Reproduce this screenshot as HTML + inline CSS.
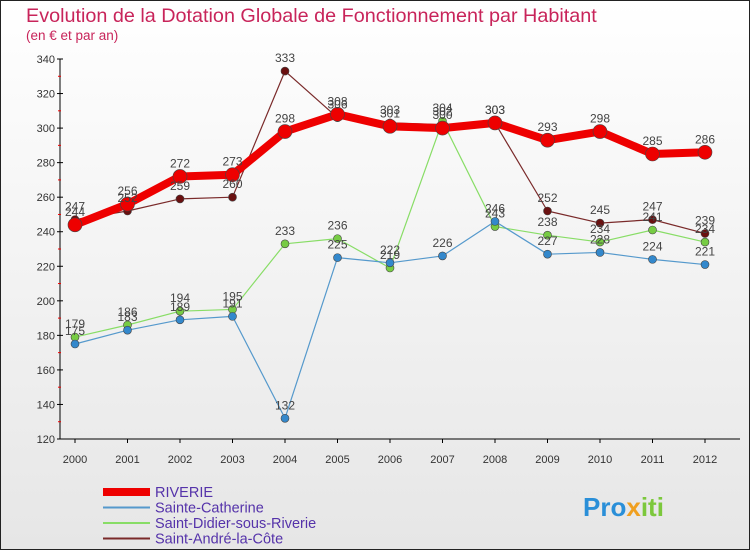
<!DOCTYPE html>
<html><head><meta charset="utf-8"><style>
body{margin:0;width:750px;height:550px;overflow:hidden;font-family:"Liberation Sans",sans-serif}
svg{display:block}
</style></head><body>
<svg id="chart" width="750" height="550">
<defs><linearGradient id="bg" x1="0" y1="0" x2="0" y2="1"><stop offset="0" stop-color="#ffffff"/><stop offset="1" stop-color="#e6e6e6"/></linearGradient></defs>
<rect x="0.5" y="0.5" width="749" height="549" fill="url(#bg)" stroke="#222"/>
<text x="26" y="22" font-size="19.8" fill="#c8245a">Evolution de la Dotation Globale de Fonctionnement par Habitant</text>
<text x="26" y="40" font-size="13.5" fill="#c8245a">(en € et par an)</text>
<g id="axes"></g><g id="series"></g><g id="legend"></g>
<text x="583" y="516" font-size="26" font-weight="bold" fill="#2a8fd8">Pro<tspan fill="#f0a020">x</tspan><tspan fill="#7cc83c">iti</tspan></text>
</svg>
<script>
const years=[2000,2001,2002,2003,2004,2005,2006,2007,2008,2009,2010,2011,2012];
const yTicks=[120,140,160,180,200,220,240,260,280,300,320,340];
const riverie=[244,256,272,273,298,308,301,300,303,293,298,285,286];
const sainteCatherine=[175,183,189,191,132,225,222,226,246,227,228,224,221];
const saintDidier=[179,186,194,195,233,236,219,304,243,238,234,241,234];
const saintAndre=[247,252,259,260,333,306,303,302,303,252,245,247,239];
const names=["RIVERIE","Sainte-Catherine","Saint-Didier-sous-Riverie","Saint-André-la-Côte"];
const NS="http://www.w3.org/2000/svg";
const X=i=>75+i*52.5;
const Y=v=>439-(v-120)*(380/220);
function mk(tag,attrs,parent){const e=document.createElementNS(NS,tag);for(const k in attrs)e.setAttribute(k,attrs[k]);parent.appendChild(e);return e;}
const ax=document.getElementById('axes');
const yl=mk('line',{x1:60,y1:Y(340),x2:60,y2:Y(120),stroke:'#000'},ax);


const xl=mk('line',{x1:60,y1:Y(120),x2:740,y2:Y(120),stroke:'#000'},ax);


yTicks.forEach((t,i)=>{
 mk('line',{x1:57,y1:Y(t),x2:63,y2:Y(t),stroke:'#000'},ax);
 if(i<yTicks.length-1) mk('line',{x1:58,y1:Y(t+10),x2:61,y2:Y(t+10),stroke:'#e00'},ax);
 const tx=mk('text',{x:55,y:Y(t)+4,'font-size':11,fill:'#333','text-anchor':'end'},ax);
 tx.textContent=t;
 
 
});
years.forEach((y,i)=>{
 mk('line',{x1:X(i),y1:Y(120),x2:X(i),y2:Y(120)+4,stroke:'#000'},ax);
 const tx=mk('text',{x:X(i),y:463,'font-size':11,fill:'#333','text-anchor':'middle'},ax);
 tx.textContent=y;
 
 
});
const sg=document.getElementById('series');
const defs=[
 {d:saintAndre,c:'#7a2a2a',w:1.2,r:4,dot:'#6a1010',n:'saint-andre-line'},
 {d:saintDidier,c:'#88dd66',w:1.2,r:4,dot:'#77cc44',n:'saint-didier-line'},
 {d:sainteCatherine,c:'#5599cc',w:1.2,r:4,dot:'#3388cc',n:'sainte-catherine-line'},
 {d:riverie,c:'#ee0000',w:8,r:7,dot:'#ee0000',n:'riverie-line'}
];
defs.forEach(s=>{
 const g=mk('g',{},sg);
 
 
 mk('polyline',{points:s.d.map((v,i)=>X(i)+','+Y(v)).join(' '),fill:'none',stroke:s.c,'stroke-width':s.w,'stroke-linejoin':'round'},g);
 s.d.forEach((v,i)=>{
  const c=mk('circle',{cx:X(i),cy:Y(v),r:s.r,fill:s.dot,stroke:'#444','stroke-width':0.6},g);
  
  
 });
});
[saintAndre,saintDidier,sainteCatherine,riverie].forEach(d=>{
 d.forEach((v,i)=>{
  const t=mk('text',{x:X(i),y:Y(v)-9,'font-size':12,fill:'#444','text-anchor':'middle'},sg);
  t.textContent=v;
  
  
 });
});
const lg=document.getElementById('legend');
const lc=[['#ee0000',8],['#5599cc',2],['#88dd66',2],['#7a2a2a',2]];
names.forEach((n,i)=>{
 const yy=492+i*15.5;
 const g=mk('g',{},lg);
 
 
 mk('line',{x1:103,y1:yy,x2:150,y2:yy,stroke:lc[i][0],'stroke-width':lc[i][1]},g);
 const t=mk('text',{x:155,y:yy+5,'font-size':14.5,fill:'#5533aa'},g);
 t.textContent=n;
});
</script>
</body></html>
